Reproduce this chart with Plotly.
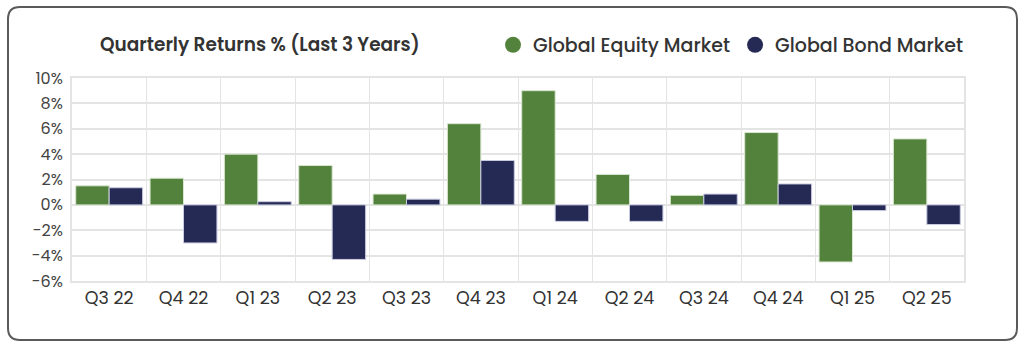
import plotly.graph_objects as go

quarters = ["Q3 22", "Q4 22", "Q1 23", "Q2 23", "Q3 23", "Q4 23",
            "Q1 24", "Q2 24", "Q3 24", "Q4 24", "Q1 25", "Q2 25"]
equity = [1.5, 2.1, 4.0, 3.1, 0.85, 6.4, 9.0, 2.4, 0.75, 5.7, -4.5, 5.2]
bond = [1.35, -3.0, 0.25, -4.3, 0.45, 3.5, -1.3, -1.3, 0.85, 1.65, -0.45, -1.55]
y_ticks = [-6, -4, -2, 0, 2, 4, 6, 8, 10]
y_tick_labels = [f"{v}%" for v in y_ticks]

GREEN = "#52823B"
NAVY = "#252A55"
FONT = "Poppins, Inter, Lato, sans-serif"

W, H = 1024, 351
ML, MR, MT, MB = 72, 60, 78, 70
PW, PH = W - ML - MR, H - MT - MB


def px(x):
    return (x - ML) / PW


def py(y):
    return (H - MB - y) / PH


fig = go.Figure()
fig.add_trace(go.Bar(x=quarters, y=equity, name="Global Equity Market",
                     marker=dict(color=GREEN, line=dict(color="#d9e6d0", width=1)),
                     showlegend=False))
fig.add_trace(go.Bar(x=quarters, y=bond, name="Global Bond Market",
                     marker=dict(color=NAVY, line=dict(color="#c9cbe0", width=1)),
                     showlegend=False))
# legend entries with circle symbols
fig.add_trace(go.Scatter(x=[None], y=[None], mode="markers", name="Global Equity Market",
                         marker=dict(symbol="circle", size=17, color=GREEN)))
fig.add_trace(go.Scatter(x=[None], y=[None], mode="markers", name="Global Bond Market",
                         marker=dict(symbol="circle", size=17, color=NAVY)))

# rounded frame
x0, x1, y0, y1 = 8, 1017, 7, 340
r = 12
rx, ry = r / PW, r / PH
X0, X1, Y0, Y1 = px(x0), px(x1), py(y0), py(y1)
path = (f"M {X0 + rx},{Y0} L {X1 - rx},{Y0} Q {X1},{Y0} {X1},{Y0 - ry} "
        f"L {X1},{Y1 + ry} Q {X1},{Y1} {X1 - rx},{Y1} "
        f"L {X0 + rx},{Y1} Q {X0},{Y1} {X0},{Y1 + ry} "
        f"L {X0},{Y0 - ry} Q {X0},{Y0} {X0 + rx},{Y0} Z")
fig.add_shape(type="path", path=path, xref="paper", yref="paper",
              line=dict(color="#5a5a5a", width=2), layer="below")

fig.update_layout(
    width=W, height=H,
    margin=dict(l=ML, r=MR, t=MT, b=MB, autoexpand=False),
    paper_bgcolor="white", plot_bgcolor="white",
    font=dict(family=FONT, color="#333333"),
    barmode="group", bargap=0.1, bargroupgap=0,
    title=dict(text="Quarterly Returns % (Last 3 Years)",
               x=px(100), xanchor="left", xref="paper",
               y=1 - 45 / H, yanchor="middle",
               font=dict(size=18.5, color="#333333", family=FONT, weight=600)),
    legend=dict(orientation="h", x=px(493), xanchor="left",
                y=1 - 45 / H, yref="container", yanchor="middle",
                font=dict(size=19, color="#333333", family=FONT, weight=500),
                itemsizing="trace", bgcolor="rgba(0,0,0,0)"),
    xaxis=dict(type="category", tickson="boundaries", showgrid=True,
               gridcolor="#e4e4e4", gridwidth=1, ticks="",
               showline=True, linecolor="#e4e4e4", linewidth=2, mirror=True,
               tickfont=dict(size=17.5, color="#333333", family=FONT),
               range=[-0.5, 11.5]),
    yaxis=dict(range=[-6, 10], tickvals=y_ticks, ticktext=y_tick_labels,
               showgrid=True, gridcolor="#e4e4e4", gridwidth=2,
               zeroline=False, showline=True, linecolor="#e4e4e4",
               linewidth=2, mirror=True, ticks="", ticklabelstandoff=4,
               tickfont=dict(size=16, color="#444444", family=FONT)),
)

fig.write_html("out.html")
